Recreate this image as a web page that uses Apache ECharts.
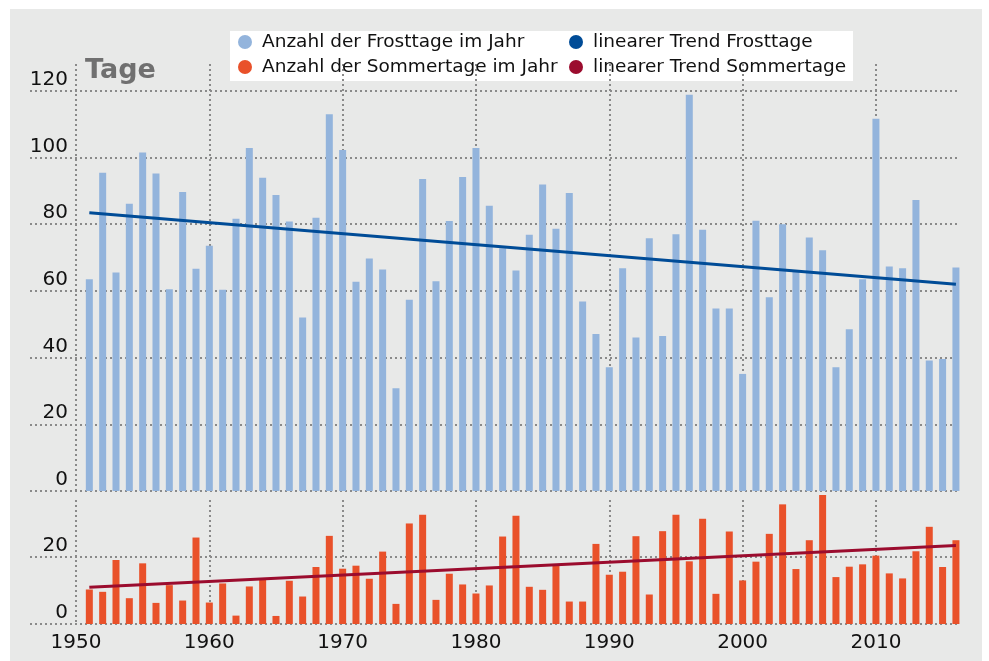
<!DOCTYPE html>
<html lang="de">
  <head>
    <meta charset="UTF-8" />
    <title>Frost- und Sommertage</title>
    <style>
      html, body { margin: 0; padding: 0; background: #fff; }
      #main { width: 989px; height: 661px; }
    </style>
    <script src="https://cdn.jsdelivr.net/npm/echarts@6/dist/echarts.min.js"></script>
  </head>
  <body>
    <div id="main"></div>
    <script>
      // Jahre 1951 - 2016
      const firstYear = 1951
      const years = []
      for (let y = firstYear; y <= 2016; y++) years.push(y)

      // Anzahl der Frosttage im Jahr
      const frostDays = [
        63.5, 95.4, 65.5, 86.1, 101.5, 95.2, 60.5, 89.6, 66.6, 73.5,
        60.3, 81.6, 102.8, 93.9, 88.7, 80.8, 52.0, 81.9, 112.9, 102.2,
        62.7, 69.7, 66.4, 30.8, 57.3, 93.5, 62.9, 80.9, 94.1, 102.8,
        85.5, 72.8, 66.1, 76.8, 91.9, 78.6, 89.3, 56.8, 47.1, 37.1,
        66.8, 46.0, 75.8, 46.5, 77.0, 118.8, 78.3, 54.7, 54.7, 35.1,
        81.0, 58.1, 80.0, 65.7, 76.0, 72.2, 37.1, 48.5, 63.5, 111.6,
        67.3, 66.8, 87.2, 39.1, 39.6, 67.0
      ]

      // Anzahl der Sommertage im Jahr
      const summerDays = [
        10.3, 9.6, 19.1, 7.7, 18.1, 6.3, 11.6, 7.0, 25.8, 6.4,
        12.1, 2.5, 11.2, 13.2, 2.4, 12.9, 8.2, 17.0, 26.3, 16.5,
        17.4, 13.5, 21.6, 6.0, 30.0, 32.6, 7.2, 15.0, 11.8, 9.1,
        11.5, 26.1, 32.3, 11.1, 10.2, 17.4, 6.7, 6.7, 23.9, 14.7,
        15.6, 26.2, 8.8, 27.7, 32.6, 18.7, 31.4, 9.0, 27.6, 13.0,
        18.6, 26.9, 35.7, 16.4, 25.0, 38.5, 14.0, 17.1, 17.8, 20.4,
        15.1, 13.6, 21.7, 29.0, 17.0, 25.0
      ]

      // lineare Trends (Anfang / Ende)
      const trendYears = [1951, 2016]
      const frostTrend = [83.4, 62.0]
      const summerTrend = [11.0, 23.4]

      // Achsenbeschriftungen
      const xTicks = [1950, 1960, 1970, 1980, 1990, 2000, 2010]
      const frostTicks = [0, 20, 40, 60, 80, 100, 120]
      const summerTicks = [0, 20]

      const pairs = (xs, ys) => xs.map((x, i) => [x, ys[i]])

      const font = 'DejaVu Sans'
      const gridLine = { show: true, lineStyle: { color: '#8a8a8a', type: [2, 3], width: 2 } }

      const xAxisBase = {
        type: 'value',
        min: 1946.55,
        max: 2016.08,
        axisLine: { show: false },
        axisTick: { show: false, customValues: xTicks },
        splitLine: gridLine
      }

      // Achse um 38px nach innen versetzt, Beschriftung rechtsbündig über der Linie
      const yAxisBase = ticks => ({
        type: 'value',
        min: 0,
        interval: 20,
        offset: -38,
        axisLine: { show: false },
        axisTick: { show: false, customValues: ticks },
        splitLine: gridLine,
        axisLabel: {
          customValues: ticks,
          margin: 0,
          verticalAlign: 'bottom',
          lineHeight: 20,
          padding: [0, 0, 1, 0],
          fontFamily: font,
          fontSize: 20,
          color: '#111'
        }
      })

      const chart = echarts.init(document.getElementById('main'))

      const legendText = { fontFamily: font, fontSize: 18.5, color: '#111', lineHeight: 20, padding: [0, 0, 0, 5] }

      const option = {
        backgroundColor: '#fff',
        animation: false,
        graphic: [
          { type: 'rect', z: -20, shape: { x: 10, y: 9, width: 972, height: 652 }, style: { fill: '#e8e9e8' } },
          { type: 'rect', z: -10, shape: { x: 230, y: 31, width: 623, height: 50 }, style: { fill: '#fff' } }
        ],
        title: {
          text: 'Tage',
          left: 85,
          top: 57,
          padding: 0,
          textStyle: { fontFamily: font, fontSize: 27, fontWeight: 'bold', color: '#707070' }
        },
        legend: [
          {
            orient: 'vertical',
            left: 238,
            top: 32,
            padding: 0,
            itemGap: 5,
            itemWidth: 14,
            itemHeight: 14,
            textStyle: legendText,
            data: [
              { name: 'Anzahl der Frosttage im Jahr', icon: 'circle' },
              { name: 'Anzahl der Sommertage im Jahr', icon: 'circle' }
            ]
          },
          {
            orient: 'vertical',
            left: 569,
            top: 32,
            padding: 0,
            itemGap: 5,
            itemWidth: 14,
            itemHeight: 14,
            textStyle: legendText,
            data: [
              { name: 'linearer Trend Frosttage', icon: 'circle' },
              { name: 'linearer Trend Sommertage', icon: 'circle' }
            ]
          }
        ],
        grid: [
          { left: 30, right: 32, top: 64, height: 427 },
          { left: 30, right: 32, top: 500, height: 124 }
        ],
        xAxis: [
          Object.assign({}, xAxisBase, { gridIndex: 0, axisLabel: { show: false } }),
          Object.assign({}, xAxisBase, {
            gridIndex: 1,
            axisLabel: {
              customValues: xTicks,
              formatter: v => String(v),
              margin: 9,
              fontFamily: font,
              fontSize: 20,
              color: '#111'
            }
          })
        ],
        yAxis: [
          Object.assign(yAxisBase(frostTicks), { gridIndex: 0, max: 128 }),
          Object.assign(yAxisBase(summerTicks), { gridIndex: 1, max: 37 })
        ],
        series: [
          {
            name: 'Anzahl der Frosttage im Jahr',
            type: 'bar',
            xAxisIndex: 0,
            yAxisIndex: 0,
            barWidth: 7,
            itemStyle: { color: '#93b4dc' },
            data: pairs(years, frostDays)
          },
          {
            name: 'Anzahl der Sommertage im Jahr',
            type: 'bar',
            xAxisIndex: 1,
            yAxisIndex: 1,
            barWidth: 7,
            clip: false,
            itemStyle: { color: '#e9512a' },
            data: pairs(years, summerDays)
          },
          {
            name: 'linearer Trend Frosttage',
            type: 'line',
            xAxisIndex: 0,
            yAxisIndex: 0,
            z: 5,
            symbol: 'none',
            itemStyle: { color: '#004c97' },
            lineStyle: { color: '#004c97', width: 3 },
            data: pairs(trendYears, frostTrend)
          },
          {
            name: 'linearer Trend Sommertage',
            type: 'line',
            xAxisIndex: 1,
            yAxisIndex: 1,
            z: 5,
            symbol: 'none',
            itemStyle: { color: '#9b0c2e' },
            lineStyle: { color: '#9b0c2e', width: 3 },
            data: pairs(trendYears, summerTrend)
          }
        ]
      }

      chart.setOption(option)
    </script>
  </body>
</html>
